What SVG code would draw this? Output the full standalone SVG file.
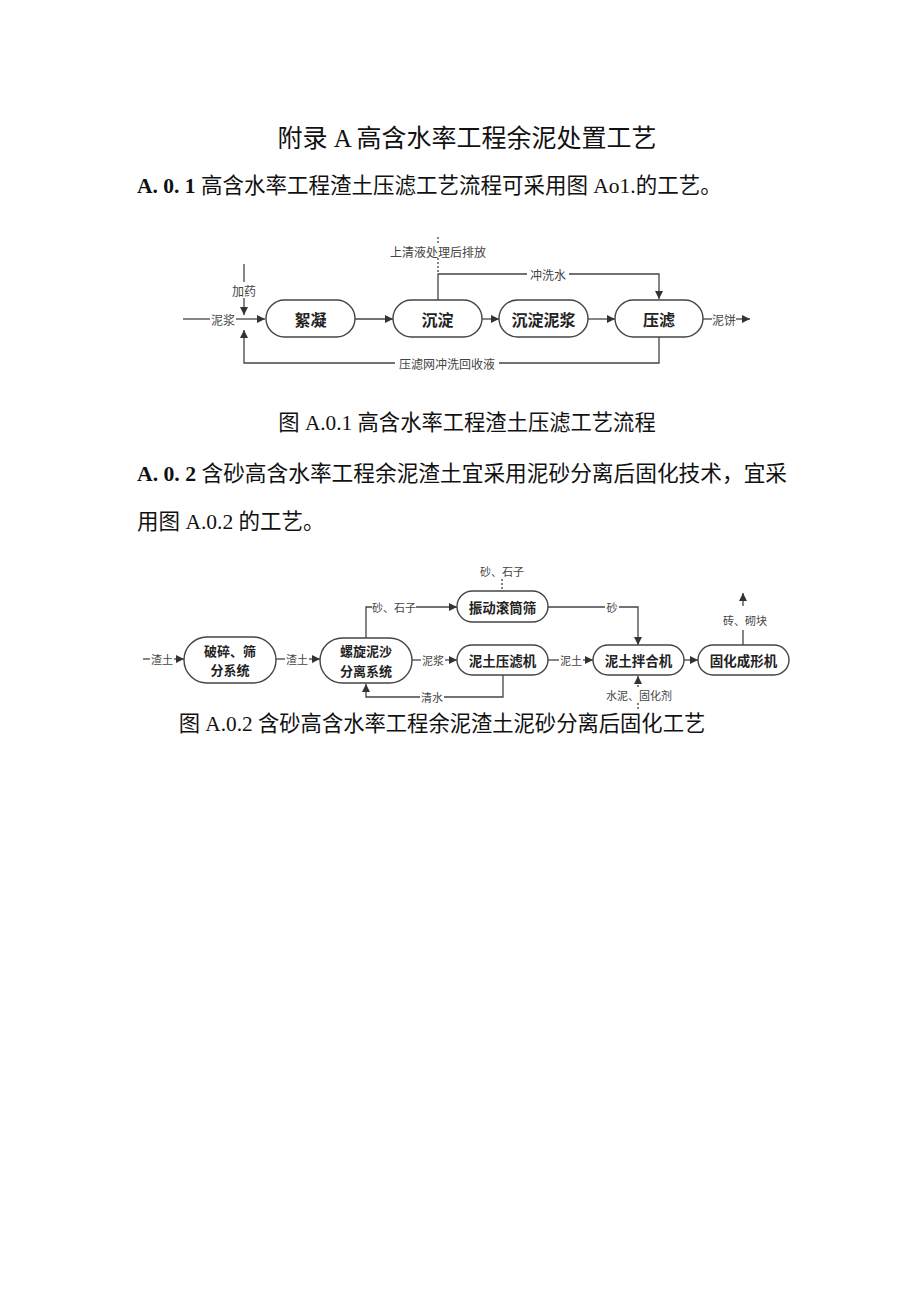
<svg xmlns="http://www.w3.org/2000/svg" width="920" height="1301" viewBox="0 0 920 1301">
<style>
.doc{font-family:"Liberation Serif","Noto Sans CJK SC",serif;fill:#111}
.num{font-family:"Liberation Serif","Noto Sans CJK SC",serif;font-weight:bold;fill:#111}
.box{fill:#fff;stroke:#444;stroke-width:1.4}
.bl{font-family:"Noto Sans CJK SC",sans-serif;font-weight:bold;fill:#222;text-anchor:middle;dominant-baseline:central}
.cl{font-family:"Noto Sans CJK SC",sans-serif;fill:#444;text-anchor:middle;dominant-baseline:central}
.ln{fill:none;stroke:#444;stroke-width:1.3}
.dl{fill:none;stroke:#444;stroke-width:1.3;stroke-dasharray:2 2}
.bg{fill:#fff}
</style>
<defs>
<marker id="ah" viewBox="0 0 10 10" refX="10" refY="5" markerWidth="8" markerHeight="8" markerUnits="userSpaceOnUse" orient="auto">
<path d="M0,0 L10,5 L0,10 z" fill="#333"/>
</marker>
</defs>
<rect width="920" height="1301" fill="#fff"/>

<g id="text">
<text class="doc" x="467" y="147" font-size="25" text-anchor="middle">附录 A 高含水率工程余泥处置工艺</text>
<text x="137" y="193" font-size="21.5"><tspan class="num">A. 0. 1</tspan><tspan class="doc"> 高含水率工程渣土压滤工艺流程可采用图 Ao1.的工艺。</tspan></text>
<text class="doc" x="467" y="430" font-size="21.3" text-anchor="middle">图 A.0.1 高含水率工程渣土压滤工艺流程</text>
<text x="137" y="481" font-size="21.7"><tspan class="num">A. 0. 2</tspan><tspan class="doc"> 含砂高含水率工程余泥渣土宜采用泥砂分离后固化技术，宜采</tspan></text>
<text class="doc" x="137" y="529" font-size="21.5">用图 A.0.2 的工艺。</text>
<text class="doc" x="442" y="731" font-size="21.3" text-anchor="middle">图 A.0.2 含砂高含水率工程余泥渣土泥砂分离后固化工艺</text>
</g>

<g id="connectors">
<!-- diagram 1 -->
<path class="ln" d="M183,319 H210"/>
<text class="cl" x="223" y="319" font-size="12">泥浆</text>
<path class="ln" d="M236,319 H265" marker-end="url(#ah)"/>
<path class="ln" d="M244,264 V282"/>
<text class="cl" x="244" y="290" font-size="12">加药</text>
<path class="ln" d="M244,298 V315" marker-end="url(#ah)"/>
<path class="ln" d="M355,319 H393" marker-end="url(#ah)"/>
<path class="ln" d="M482,319 H499" marker-end="url(#ah)"/>
<path class="ln" d="M588,319 H615" marker-end="url(#ah)"/>
<path class="ln" d="M703,319 H712"/>
<text class="cl" x="724" y="319" font-size="12">泥饼</text>
<path class="ln" d="M736,319 H750" marker-end="url(#ah)"/>
<path class="ln" d="M438,300 V274 H659 V299" marker-end="url(#ah)"/>
<rect class="bg" x="527" y="266" width="42" height="16"/>
<text class="cl" x="548" y="274" font-size="12">冲洗水</text>
<path class="dl" d="M438,258 V272"/>
<path class="dl" d="M438,237 V244"/>
<text class="cl" x="438" y="251" font-size="12">上清液处理后排放</text>
<path class="ln" d="M659,337 V363 H244 V330" marker-end="url(#ah)"/>
<rect class="bg" x="395" y="355" width="104" height="16"/>
<text class="cl" x="447" y="363" font-size="12">压滤网冲洗回收液</text>

<!-- diagram 2 -->
<path class="ln" d="M143,659 H150"/>
<text class="cl" x="162" y="659" font-size="11">渣土</text>
<path class="ln" d="M174,659 H184" marker-end="url(#ah)"/>
<path class="ln" d="M276,659 H285"/>
<text class="cl" x="297" y="659" font-size="11">渣土</text>
<path class="ln" d="M309,659 H320" marker-end="url(#ah)"/>
<path class="ln" d="M366,638 V607 H457" marker-end="url(#ah)"/>
<rect class="bg" x="372" y="600" width="44" height="14"/>
<text class="cl" x="394" y="607" font-size="11">砂、石子</text>
<path class="dl" d="M502,579 V591"/>
<text class="cl" x="502" y="571" font-size="11">砂、石子</text>
<path class="ln" d="M412,660 H421"/>
<text class="cl" x="433" y="660" font-size="11">泥浆</text>
<path class="ln" d="M445,660 H457" marker-end="url(#ah)"/>
<path class="ln" d="M503,675 V697 H366 V684" marker-end="url(#ah)"/>
<rect class="bg" x="420" y="690" width="24" height="14"/>
<text class="cl" x="432" y="697" font-size="11">清水</text>
<path class="ln" d="M548,607 H638 V645" marker-end="url(#ah)"/>
<rect class="bg" x="605" y="600" width="14" height="14"/>
<text class="cl" x="612" y="607" font-size="11">砂</text>
<path class="ln" d="M548,660 H559"/>
<text class="cl" x="571" y="660" font-size="11">泥土</text>
<path class="ln" d="M583,660 H593" marker-end="url(#ah)"/>
<path class="dl" d="M638,687 V680"/>
<path class="ln" d="M638,681 V676" marker-end="url(#ah)"/>
<text class="cl" x="639" y="695" font-size="11">水泥、固化剂</text>
<path class="dl" d="M638,703 V710"/>
<path class="ln" d="M684,660 H698" marker-end="url(#ah)"/>
<path class="ln" d="M743,645 V630"/>
<text class="cl" x="745" y="620" font-size="11">砖、砌块</text>
<path class="ln" d="M743,606 V593" marker-end="url(#ah)"/>
</g>

<g id="n-xuning"><rect class="box" x="266" y="300" width="89" height="37" rx="18.5"/><text class="bl" x="310.5" y="319" font-size="16">絮凝</text></g>
<g id="n-chendian"><rect class="box" x="393" y="300" width="89" height="37" rx="18.5"/><text class="bl" x="437.5" y="319" font-size="16">沉淀</text></g>
<g id="n-chendianniijang"><rect class="box" x="499" y="300" width="89" height="37" rx="18.5"/><text class="bl" x="543.5" y="319" font-size="16">沉淀泥浆</text></g>
<g id="n-yalv"><rect class="box" x="615" y="300" width="88" height="37" rx="18.5"/><text class="bl" x="659" y="319" font-size="16">压滤</text></g>

<g id="n-posui"><rect class="box" x="184" y="637" width="92" height="46" rx="23"/><text class="bl" x="230" y="650" font-size="13">破碎、筛</text><text class="bl" x="230" y="669.5" font-size="13">分系统</text></g>
<g id="n-luoxuan"><rect class="box" x="320" y="638" width="92" height="45" rx="22.5"/><text class="bl" x="366" y="650.5" font-size="13">螺旋泥沙</text><text class="bl" x="366" y="670" font-size="13">分离系统</text></g>
<g id="n-zhendong"><rect class="box" x="457" y="591" width="91" height="31" rx="15.5"/><text class="bl" x="502.5" y="606.5" font-size="13.5">振动滚筒筛</text></g>
<g id="n-nituyalv"><rect class="box" x="457" y="645" width="91" height="30" rx="15"/><text class="bl" x="502.5" y="660" font-size="13.5">泥土压滤机</text></g>
<g id="n-banhe"><rect class="box" x="593" y="645" width="91" height="30" rx="15"/><text class="bl" x="638.5" y="660" font-size="13.5">泥土拌合机</text></g>
<g id="n-guhua"><rect class="box" x="698" y="645" width="91" height="30" rx="15"/><text class="bl" x="743.5" y="660" font-size="13.5">固化成形机</text></g>
</svg>
